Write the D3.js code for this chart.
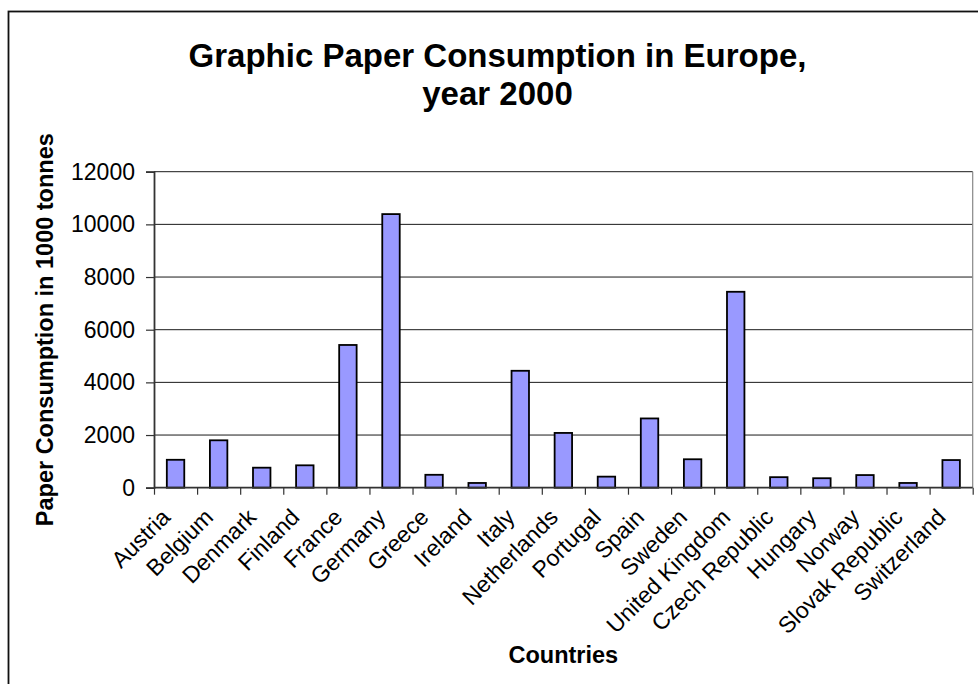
<!DOCTYPE html>
<html>
<head>
<meta charset="utf-8">
<script src="https://cdn.jsdelivr.net/npm/d3@7"></script>
<style>
  html, body { margin: 0; padding: 0; background: #fff; }
  svg { display: block; }
  text { font-family: "Liberation Sans", Arial, sans-serif; fill: #000; }
</style>
</head>
<body>
<svg id="chart" width="978" height="684"></svg>
<script>
const countries = ["Austria","Belgium","Denmark","Finland","France","Germany","Greece","Ireland","Italy","Netherlands","Portugal","Spain","Sweden","United Kingdom","Czech Republic","Hungary","Norway","Slovak Republic","Switzerland"];
const consumption = [1060, 1800, 760, 850, 5420, 10390, 490, 180, 4440, 2080, 420, 2630, 1080, 7440, 400, 360, 480, 180, 1050];
const yTicks = [0, 2000, 4000, 6000, 8000, 10000, 12000];
const titleLines = ["Graphic Paper Consumption in Europe,", "year 2000"];
const yTitle = "Paper Consumption in 1000 tonnes";
const xTitle = "Countries";

const svg = d3.select("#chart");
const plot = { left: 154, right: 972.7, top: 171.7, bottom: 487.7 };

// outer frame (extends past the bottom/right of the picture)
svg.append("rect")
  .attr("x", 8.5).attr("y", 11.5)
  .attr("width", 990).attr("height", 700)
  .attr("fill", "#fff").attr("stroke", "#111").attr("stroke-width", 1.8);

const x = d3.scaleBand().domain(countries).range([plot.left, plot.right]).paddingInner(0).paddingOuter(0);
const xEdges = d3.scaleLinear().domain([0, countries.length]).range([plot.left, plot.right]);
const y = d3.scaleLinear().domain([0, 12000]).range([plot.bottom, plot.top]);

// gridlines
svg.append("g").selectAll("line").data(yTicks.filter(d => d > 0)).join("line")
  .attr("x1", plot.left).attr("x2", plot.right)
  .attr("y1", d => y(d)).attr("y2", d => y(d))
  .attr("stroke", "#1a1a1a").attr("stroke-width", 1);

// plot area right border
svg.append("line")
  .attr("x1", plot.right).attr("x2", plot.right)
  .attr("y1", plot.top).attr("y2", plot.bottom)
  .attr("stroke", "#888").attr("stroke-width", 1.2);

// bars
const bw = x.bandwidth() * 0.405;
svg.append("g").selectAll("rect").data(countries).join("rect")
  .attr("x", (d) => x(d) + (x.bandwidth() - bw) / 2)
  .attr("y", (d, i) => y(consumption[i]))
  .attr("width", bw)
  .attr("height", (d, i) => y(0) - y(consumption[i]))
  .attr("fill", "#9999FF").attr("stroke", "#000").attr("stroke-width", 1.8);

// y axis
const yAxis = svg.append("g").attr("transform", `translate(${plot.left},0)`)
  .call(d3.axisLeft(y).tickValues(yTicks).tickSize(8).tickPadding(11).tickFormat(d3.format("d")));
yAxis.select(".domain").attr("stroke", "#333").attr("stroke-width", 1.8);
yAxis.selectAll(".tick line").attr("stroke", "#333").attr("stroke-width", 1.2);
yAxis.selectAll("text").attr("font-size", 23).attr("font-family", "Liberation Sans, Arial, sans-serif").attr("fill", "#000");

// x axis (ticks at category edges)
const xAxis = svg.append("g").attr("transform", `translate(0,${plot.bottom})`)
  .call(d3.axisBottom(xEdges).tickValues(d3.range(countries.length + 1)).tickSize(7).tickFormat(""));
xAxis.select(".domain").attr("stroke", "#333").attr("stroke-width", 1.8).attr("d", `M${plot.left},0H${plot.right}`);
xAxis.selectAll(".tick line").attr("stroke", "#333").attr("stroke-width", 1.2);

// category labels
svg.append("g").selectAll("text").data(countries).join("text")
  .attr("transform", d => `translate(${x(d) + x.bandwidth() / 2 - 4},${plot.bottom + 31}) rotate(-45)`)
  .attr("text-anchor", "end")
  .attr("font-size", 23)
  .text(d => d);

// title
svg.append("g").selectAll("text").data(titleLines).join("text")
  .attr("x", 497.5).attr("y", (d, i) => 66.7 + i * 38.3)
  .attr("text-anchor", "middle")
  .attr("font-size", 33).attr("font-weight", "bold")
  .text(d => d);

// axis titles
svg.append("text")
  .attr("transform", `translate(52.5,${(plot.top + plot.bottom) / 2}) rotate(-90)`)
  .attr("text-anchor", "middle")
  .attr("font-size", 23.5).attr("font-weight", "bold")
  .text(yTitle);

svg.append("text")
  .attr("x", (plot.left + plot.right) / 2).attr("y", 663)
  .attr("text-anchor", "middle")
  .attr("font-size", 23.5).attr("font-weight", "bold")
  .text(xTitle);
</script>
</body>
</html>
